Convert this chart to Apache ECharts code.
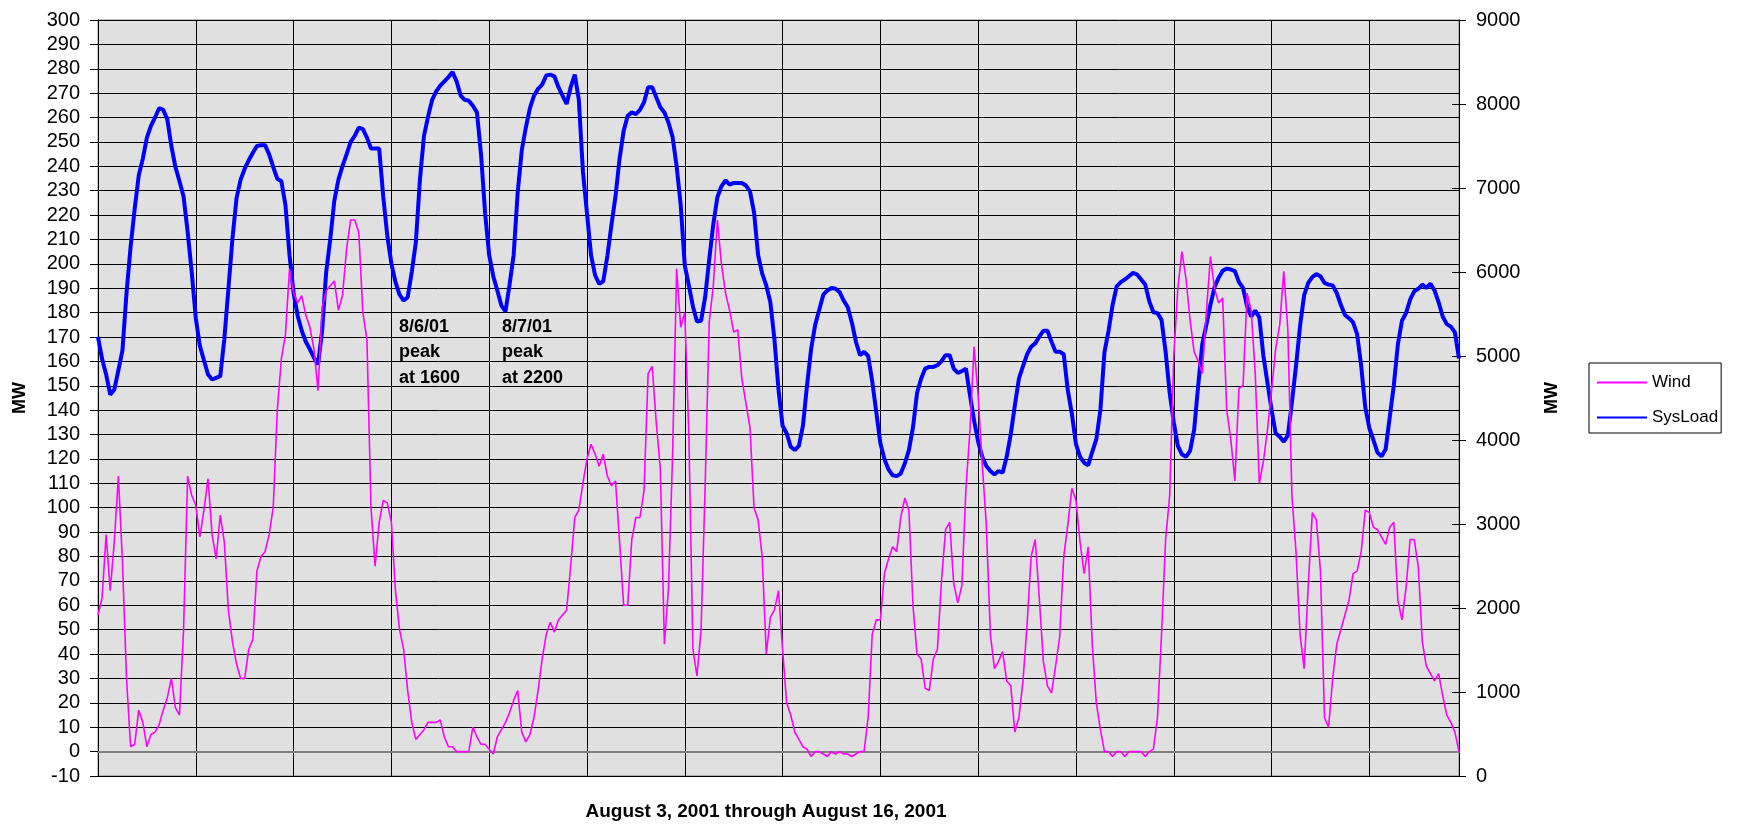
<!DOCTYPE html>
<html><head><meta charset="utf-8">
<script src="https://cdn.jsdelivr.net/npm/echarts@6/dist/echarts.min.js"></script>
<style>html,body{margin:0;padding:0;background:#fff}#c{width:1742px;height:824px}</style>
</head><body><div id="c"></div>
<script>
// Hourly values, August 3, 2001 through August 16, 2001
const windMW = [
56, 63, 89, 66, 86, 113, 78, 30, 2, 3, 17, 12, 2, 7, 8, 11, 17, 22, 30, 18, 15, 50, 113, 105,
101, 88, 99, 112, 89, 79, 97, 86, 58, 45, 36, 30, 30, 42, 46, 74, 80, 82, 89, 100, 140, 161, 171, 198,
188, 184, 187, 179, 174, 165, 148, 182, 189, 191, 193, 181, 187, 206, 218, 218, 213, 180, 169, 100, 76, 94, 103, 102,
94, 66, 50, 42, 25, 12, 5, 7, 9, 12, 12, 12, 13, 6, 2, 2, 0, 0, 0, 0, 10, 6, 3, 3,
1, -1, 6, 9, 12, 16, 21, 25, 8, 4, 7, 14, 25, 38, 48, 53, 49, 54, 56, 58, 76, 96, 99, 110,
120, 126, 122, 117, 122, 113, 109, 111, 86, 60, 60, 87, 96, 96, 107, 155, 158, 135, 116, 44, 67, 121, 198, 174,
180, 130, 42, 31, 50, 109, 176, 191, 218, 200, 188, 181, 172, 173, 153, 143, 133, 100, 95, 80, 40, 55, 58, 66,
42, 20, 15, 8, 5, 2, 1, -2, 0, 0, -1, -2, 0, -1, 0, -1, -1, -2, -1, 0, 0, 14, 48, 54,
54, 73, 79, 84, 82, 96, 104, 99, 60, 40, 38, 26, 25, 38, 42, 70, 91, 94, 69, 61, 68, 108, 132, 166,
146, 118, 93, 48, 34, 37, 41, 29, 27, 8, 14, 29, 52, 80, 87, 63, 37, 27, 24, 35, 47, 80, 93, 108,
103, 86, 73, 84, 44, 20, 9, 0, 0, -2, 0, 0, -2, 0, 0, 0, 0, -2, 0, 1, 14, 48, 87, 105,
162, 190, 205, 194, 177, 164, 160, 155, 180, 203, 190, 184, 186, 140, 128, 111, 149, 150, 188, 181, 155, 110, 119, 132,
148, 165, 175, 197, 173, 105, 82, 48, 34, 68, 98, 95, 74, 14, 10, 30, 44, 50, 56, 62, 73, 74, 82, 99,
98, 92, 91, 88, 85, 92, 94, 62, 54, 67, 87, 87, 76, 45, 35, 32, 29, 32, 23, 15, 12, 8, 0
];
const sysLoadMW = [
5229, 4967, 4780, 4540, 4600, 4830, 5066, 5750, 6300, 6750, 7150, 7350, 7600, 7740, 7840, 7950, 7930, 7820, 7500, 7250, 7080, 6900, 6480, 6000,
5450, 5120, 4950, 4780, 4720, 4740, 4760, 5200, 5800, 6400, 6880, 7100, 7230, 7330, 7420, 7500, 7510, 7510, 7400, 7250, 7110, 7080, 6800, 6200,
5750, 5480, 5300, 5170, 5080, 4980, 4900, 5300, 6000, 6390, 6850, 7100, 7260, 7400, 7550, 7620, 7720, 7700, 7600, 7470, 7470, 7470, 6900, 6430,
6100, 5880, 5730, 5660, 5700, 6000, 6350, 7100, 7620, 7850, 8050, 8150, 8220, 8270, 8320, 8380, 8270, 8100, 8050, 8040, 7980, 7900, 7400, 6700,
6200, 5950, 5780, 5600, 5530, 5850, 6200, 6950, 7450, 7720, 7950, 8100, 8180, 8230, 8340, 8350, 8330, 8200, 8100, 8000, 8200, 8350, 8050, 7200,
6700, 6200, 5960, 5860, 5890, 6190, 6560, 6900, 7350, 7680, 7860, 7900, 7880, 7930, 8020, 8200, 8200, 8080, 7960, 7900, 7780, 7610, 7260, 6800,
6080, 5840, 5590, 5410, 5420, 5700, 6150, 6570, 6890, 7020, 7090, 7040, 7060, 7060, 7060, 7030, 6960, 6710, 6200, 5980, 5840, 5640, 5200, 4600,
4170, 4080, 3920, 3880, 3930, 4170, 4650, 5080, 5370, 5550, 5730, 5780, 5810, 5800, 5760, 5660, 5580, 5400, 5170, 5010, 5050, 5000, 4700, 4330,
3960, 3770, 3650, 3580, 3570, 3600, 3720, 3880, 4150, 4560, 4730, 4850, 4870, 4870, 4890, 4940, 5010, 5010, 4850, 4800, 4820, 4850, 4530, 4230,
3980, 3800, 3690, 3630, 3590, 3630, 3610, 3800, 4070, 4410, 4730, 4880, 5020, 5110, 5150, 5230, 5300, 5300, 5170, 5050, 5050, 5020, 4590, 4310,
3950, 3800, 3730, 3700, 3860, 4010, 4360, 5050, 5300, 5610, 5830, 5880, 5910, 5950, 5990, 5970, 5910, 5850, 5650, 5520, 5510, 5430, 5050, 4560,
4210, 3930, 3830, 3800, 3870, 4120, 4650, 5140, 5370, 5610, 5820, 5930, 6015, 6040, 6030, 6010, 5880, 5810, 5590, 5470, 5540, 5460, 5000, 4680,
4360, 4080, 4040, 3980, 4055, 4450, 4880, 5360, 5725, 5870, 5940, 5975, 5950, 5870, 5850, 5840, 5750, 5610, 5490, 5450, 5400, 5260, 4880, 4390,
4140, 4000, 3850, 3805, 3890, 4270, 4650, 5140, 5420, 5510, 5670, 5770, 5800, 5850, 5810, 5860, 5780, 5640, 5470, 5380, 5350, 5280, 4970
];
const seriesNames = ['Wind', 'SysLoad'];
const xAxisTitle = 'August 3, 2001 through August 16, 2001';
const yAxisTitle = 'MW';
const annotations = ['8/6/01\npeak\nat 1600', '8/7/01\npeak\nat 2200'];
const leftAxisRange = { min: -10, max: 300, interval: 10 };
const rightAxisRange = { min: 0, max: 9000, interval: 1000 };
const hoursPerDay = 24;

// hour labels (one category per hourly reading)
const categories = windMW.map((_, i) => 'Aug ' + (3 + Math.floor(i / hoursPerDay)) + ' ' + (i % hoursPerDay) + ':00');

const FONT = '"Liberation Sans", Arial, sans-serif';
const plain = (v) => String(v);
const chart = echarts.init(document.getElementById('c'), null, { renderer: 'canvas' });

chart.setOption({
  animation: false,
  backgroundColor: '#ffffff',
  grid: {
    left: 98, right: 283, top: 20, bottom: 48,
    show: true, backgroundColor: '#e0e0e0', borderColor: '#808080', borderWidth: 1
  },
  legend: {
    orient: 'vertical',
    left: 1589, top: 363,
    padding: [11, 3, 7, 7],
    itemGap: 18,
    itemWidth: 50, itemHeight: 14,
    borderColor: '#000', borderWidth: 1,
    backgroundColor: '#fff',
    itemStyle: { opacity: 0 },
    textStyle: { fontFamily: FONT, fontSize: 17, color: '#000' },
    data: seriesNames
  },
  xAxis: {
    type: 'category',
    data: categories,
    boundaryGap: false,
    axisLabel: { show: false },
    axisTick: { show: false },
    axisLine: { show: true, lineStyle: { color: '#808080', width: 2 } },
    splitLine: {
      show: true,
      interval: (idx) => idx % hoursPerDay === 0 && idx > 0,
      lineStyle: { color: '#000', width: 1 }
    }
  },
  yAxis: [
    {
      type: 'value', position: 'left',
      min: leftAxisRange.min, max: leftAxisRange.max, interval: leftAxisRange.interval,
      axisLine: { show: true, lineStyle: { color: '#000', width: 1 } },
      axisTick: { show: true, inside: false, length: 8, lineStyle: { color: '#000' } },
      axisLabel: { margin: 18, fontFamily: FONT, fontSize: 20, color: '#000', formatter: plain },
      splitLine: { show: true, lineStyle: { color: '#000', width: 1 } }
    },
    {
      type: 'value', position: 'right',
      min: rightAxisRange.min, max: rightAxisRange.max, interval: rightAxisRange.interval,
      axisLine: { show: true, lineStyle: { color: '#000', width: 1 } },
      axisTick: { show: true, inside: false, length: 7, lineStyle: { color: '#000' } },
      axisLabel: { margin: 17, fontFamily: FONT, fontSize: 20, color: '#000', formatter: plain },
      splitLine: { show: false }
    },
    {
      type: 'value', position: 'right',
      min: rightAxisRange.min, max: rightAxisRange.max, interval: rightAxisRange.interval,
      axisLine: { show: false },
      axisTick: { show: true, inside: true, length: 7, lineStyle: { color: '#000' } },
      axisLabel: { show: false },
      splitLine: { show: false }
    }
  ],
  series: [
    {
      name: seriesNames[0], type: 'line', yAxisIndex: 0, data: windMW,
      symbol: 'none', z: 3,
      lineStyle: { color: '#ff00ff', width: 1.6 }, itemStyle: { color: '#ff00ff' }
    },
    {
      name: seriesNames[1], type: 'line', yAxisIndex: 1, data: sysLoadMW,
      symbol: 'none', z: 2,
      lineStyle: { color: '#0000ff', width: 4 }, itemStyle: { color: '#0000ff' }
    }
  ],
  graphic: [
    { type: 'text', x: 399, y: 314, style: { text: annotations[0], font: 'bold 18px ' + FONT, lineHeight: 25.5, fill: '#000', textVerticalAlign: 'top' }, z: 10 },
    { type: 'text', x: 502, y: 314, style: { text: annotations[1], font: 'bold 18px ' + FONT, lineHeight: 25.5, fill: '#000', textVerticalAlign: 'top' }, z: 10 },
    { type: 'text', x: 766, y: 812, style: { text: xAxisTitle, font: 'bold 19px ' + FONT, fill: '#000', textAlign: 'center', textVerticalAlign: 'middle' } },
    { type: 'text', x: 20, y: 398, rotation: Math.PI / 2, style: { text: yAxisTitle, font: 'bold 18px ' + FONT, fill: '#000', textAlign: 'center', textVerticalAlign: 'middle' } },
    { type: 'text', x: 1552, y: 398, rotation: Math.PI / 2, style: { text: yAxisTitle, font: 'bold 18px ' + FONT, fill: '#000', textAlign: 'center', textVerticalAlign: 'middle' } }
  ]
});
</script></body></html>
